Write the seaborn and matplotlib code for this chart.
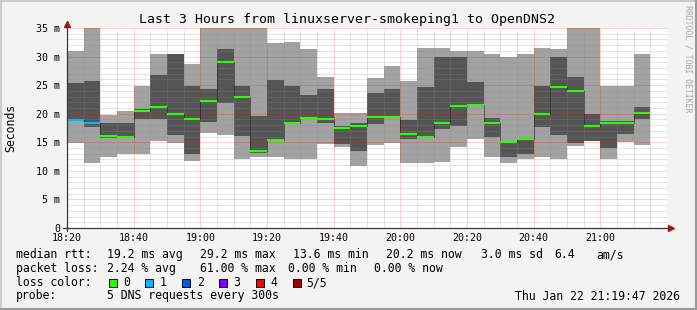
import numpy as np
import pandas as pd
import matplotlib
matplotlib.use("Agg")
import matplotlib.pyplot as plt
from matplotlib.patches import Rectangle
from matplotlib.lines import Line2D
import seaborn as sns

# ---------------- data (ms) ----------------
# 5-minute bins starting at 18:20
bin_start = pd.date_range("2026-01-22 18:20", periods=35, freq="5min")
ping_max = [31.0, 35.0, 19.8, 20.5, 24.9, 30.45, 30.5, 28.7, 35.0, 35.0, 35.0, 35.0,
            32.4, 32.55, 31.3, 26.4, 20.2, 20.1, 26.25, 28.35, 25.7, 31.5, 31.5, 31.0,
            31.0, 30.45, 30.0, 30.45, 31.5, 31.3, 35.0, 35.0, 24.85, 24.85, 30.45]
ping_q3 = [25.4, 25.7, 18.4, 18.4, 20.8, 26.7, 30.5, 24.85, 24.4, 31.3, 24.85, 19.6,
           25.9, 24.85, 23.3, 24.3, 17.9, 18.4, 23.6, 24.3, 18.9, 24.7, 29.9, 29.9,
           25.55, 19.3, 15.2, 15.7, 24.85, 29.9, 26.4, 19.95, 18.8, 18.8, 21.1]
ping_median = [18.9, 18.4, 16.1, 16.0, 20.5, 21.1, 20.0, 19.1, 22.2, 29.05, 23.0, 13.5,
               15.4, 18.4, 19.25, 19.1, 17.5, 17.9, 19.5, 19.5, 16.45, 15.9, 18.4, 21.4,
               21.6, 18.4, 15.1, 15.6, 20.0, 24.7, 24.0, 17.85, 18.4, 18.4, 20.1]
ping_q1 = [18.7, 17.6, 15.7, 15.8, 19.0, 19.0, 16.3, 12.95, 18.6, 21.8, 16.1, 13.1,
           15.2, 18.3, 19.0, 18.4, 14.7, 13.5, 18.2, 19.4, 15.6, 15.8, 17.4, 17.9,
           21.5, 16.0, 12.5, 13.0, 17.7, 16.3, 14.9, 15.3, 14.05, 16.5, 19.1]
ping_min = [14.8, 11.4, 12.5, 13.0, 13.0, 15.3, 14.8, 11.8, 16.6, 16.2, 12.0, 12.5,
            12.5, 12.0, 12.0, 14.7, 14.2, 10.85, 14.6, 14.9, 11.4, 11.4, 11.6, 14.2,
            15.5, 12.5, 11.4, 12.0, 12.5, 12.0, 14.4, 15.2, 12.0, 15.1, 14.6]
loss_count = [1, 1] + [0] * 33

x_tick_labels = ["18:20", "18:40", "19:00", "19:20", "19:40", "20:00", "20:20", "20:40", "21:00"]
y_tick_labels = ["0", "5 m", "10 m", "15 m", "20 m", "25 m", "30 m", "35 m"]

loss_colors = ["#26ff00", "#00b8ff", "#0059ff", "#7e00ff", "#ff0000", "#a00000"]
loss_labels = ["0", "1", "2", "3", "4", "5/5"]

# ---------------- style ----------------
sns.set_theme(style="white")
plt.rcParams["font.family"] = ["DejaVu Sans Mono", "DejaVu Sans"]

W, H = 697, 310
fig = plt.figure(figsize=(W / 100, H / 100), dpi=100, facecolor="#f3f3f3")
ax = fig.add_axes([67 / W, 82 / H, 600 / W, 200 / H])
ax.set_facecolor("white")

t0 = bin_start[0]
xs = np.array((bin_start - t0).total_seconds() / 60.0)
hi = np.array(ping_max); lo = np.array(ping_min)
q3 = np.array(ping_q3); q1 = np.array(ping_q1)
med = np.array(ping_median)

ax.bar(xs, hi - lo, bottom=lo, width=5, align="edge", color="#a2a2a2",
       linewidth=0, zorder=1)
ax.bar(xs, q3 - q1, bottom=q1, width=5, align="edge", color="#555555",
       linewidth=0, zorder=2)

# dotted median step connector
step_df = pd.DataFrame({"x": np.append(xs, xs[-1] + 5), "y": np.append(med, med[-1])})
sns.lineplot(data=step_df, x="x", y="y", drawstyle="steps-post", color="#111111",
             linewidth=0.72, linestyle=(0, (1, 1)), ax=ax, zorder=3)
# loss-coloured median segments
ax.hlines(med, xs, xs + 5, colors=[loss_colors[c] for c in loss_count],
          linewidth=1.5, zorder=4)

ax.set_xlim(0, 180)
ax.set_ylim(0, 35)
ax.set_xlabel(""); ax.set_ylabel("")

major_x = np.arange(0, 161, 20)
ax.set_xticks(major_x)
ax.set_xticklabels(x_tick_labels)
ax.set_xticks([m for m in range(5, 180, 5) if m % 20 != 0], minor=True)
ax.set_yticks(np.arange(0, 36, 5))
ax.set_yticklabels(y_tick_labels)
ax.set_yticks([v for v in range(1, 35) if v % 5 != 0], minor=True)

ax.set_axisbelow(False)
ax.grid(which="minor", color="#8a8a8a", alpha=0.45, linestyle=(0, (1, 1)), linewidth=0.72)
ax.grid(which="major", color="#ff0000", alpha=0.35, linestyle=(0, (1, 1)), linewidth=0.72)
ax.tick_params(which="both", length=0)
ax.tick_params(axis="y", labelsize=7.2, pad=5, colors="black")
ax.tick_params(axis="x", labelsize=7.2, pad=3.5, colors="black")
for s in ax.spines.values():
    s.set_visible(False)

# axes with arrows
axis_col = "#3a3434"
ax.add_line(Line2D([0, 0], [-0.015, 1.01], transform=ax.transAxes, color=axis_col,
                   lw=0.9, clip_on=False, zorder=6))
ax.add_line(Line2D([-0.007, 1.002], [0, 0], transform=ax.transAxes, color=axis_col,
                   lw=0.9, clip_on=False, zorder=6))
ax.plot([0], [1.02], marker="^", color="#a01818", markersize=4.5, transform=ax.transAxes,
        clip_on=False, zorder=7)
ax.plot([1.007], [0], marker=">", color="#a01818", markersize=4.5, transform=ax.transAxes,
        clip_on=False, zorder=7)

def fx(px):
    return px / W

def fy(py):
    return 1 - py / H

# title and labels
fig.text(fx(347), fy(19), "Last 3 Hours from linuxserver-smokeping1 to OpenDNS2",
         ha="center", va="center", fontsize=9.5, color="black")
fig.text(fx(11), fy(128), "Seconds", rotation=90, ha="center", va="center",
         fontsize=8.3, color="black")
fig.text(fx(688), fy(59), "RRDTOOL / TOBI OETIKER", rotation=270, ha="center",
         va="center", fontsize=5.9, color="#a8a8a8")

fs = 8.3
rows = [
    (254.7, [(16, "median rtt:"), (107.3, "19.2 ms avg"), (200.3, "29.2 ms max"),
             (293.3, "13.6 ms min"), (386.0, "20.2 ms now"), (481.0, "3.0 ms sd"),
             (554.0, "6.4"), (596.0, "am/s")]),
    (268.7, [(16, "packet loss:"), (107.3, "2.24 % avg"), (200.3, "61.00 % max"),
             (288.0, "0.00 % min"), (374.0, "0.00 % now")]),
    (282.7, [(16, "loss color:")]),
    (296.0, [(16, "probe:"), (107.3, "5 DNS requests every 300s")]),
]
for yy, items in rows:
    for xx, txt in items:
        fig.text(fx(xx), fy(yy), txt, ha="left", va="center", fontsize=fs, color="black")
fig.text(fx(680), fy(296), "Thu Jan 22 21:19:47 2026", ha="right", va="center",
         fontsize=fs, color="black")

box_x = [108.5, 145.3, 182.3, 219.2, 256.2, 293.1]
lab_x = [123.3, 160.0, 196.7, 233.3, 270.0, 306.7]
for bx, lx, col, lab in zip(box_x, lab_x, loss_colors, loss_labels):
    fig.patches.append(Rectangle((fx(bx), fy(286.5)), 8 / W, 8 / H, transform=fig.transFigure,
                                 facecolor=col, edgecolor="black", linewidth=0.7))
    fig.text(fx(lx), fy(282.7), lab, ha="left", va="center", fontsize=fs, color="black")

# shaded frame
fig.add_artist(Line2D([0, 1], [1 - 1 / H, 1 - 1 / H], transform=fig.transFigure, color="#cbcbcb", lw=1.5))
fig.add_artist(Line2D([1 / W, 1 / W], [0, 1], transform=fig.transFigure, color="#cbcbcb", lw=1.5))
fig.add_artist(Line2D([0, 1], [1 / H, 1 / H], transform=fig.transFigure, color="#999999", lw=1.5))
fig.add_artist(Line2D([1 - 1 / W, 1 - 1 / W], [0, 1], transform=fig.transFigure, color="#999999", lw=1.5))

fig.savefig("out.png", dpi=100, facecolor=fig.get_facecolor())
